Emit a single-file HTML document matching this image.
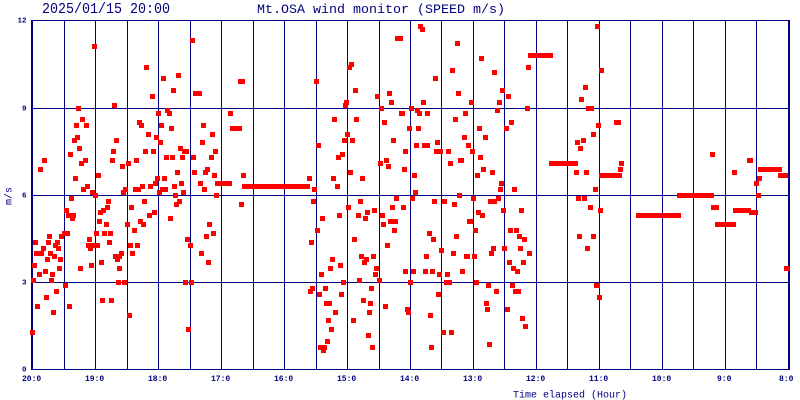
<!DOCTYPE html>
<html><head><meta charset="utf-8"><style>
html,body{margin:0;padding:0;background:#fff;}
svg{display:block;}
text{font-family:"Liberation Mono","DejaVu Sans Mono",monospace;fill:#000080;}
</style></head><body>
<svg width="800" height="400" viewBox="0 0 800 400" xmlns="http://www.w3.org/2000/svg">
<rect x="0" y="0" width="800" height="400" fill="#fff"/>
<g stroke="#000080" stroke-width="1" shape-rendering="crispEdges" fill="none">
<path d="M64.5 20V370M95.5 20V370M127.5 20V370M158.5 20V370M190.5 20V370M221.5 20V370M253.5 20V370M284.5 20V370M316.5 20V370M347.5 20V370M379.5 20V370M410.5 20V370M441.5 20V370M473.5 20V370M504.5 20V370M536.5 20V370M567.5 20V370M599.5 20V370M630.5 20V370M662.5 20V370M693.5 20V370M725.5 20V370M756.5 20V370"/>
<path d="M31 20.5H790M31 108.5H790M31 195.5H790M31 282.5H790M31 369.5H790"/>
</g>
<rect x="31" y="20" width="2" height="350" fill="#000080"/>
<rect x="788" y="20" width="2" height="350" fill="#000080"/>
<path fill="#ff0000" shape-rendering="crispEdges" d="
M92 44h5v5h-5zM190 38h5v5h-5zM144 65h5v5h-5zM161 76h5v5h-5zM176 73h5v5h-5zM171 88h5v5h-5zM150 94h5v5h-5zM193 91h9v5h-9z
M76 106h5v5h-5zM112 103h5v5h-5zM156 111h5v5h-5zM165 108h5v5h-5zM167 111h5v5h-5zM80 117h5v5h-5zM74 123h5v5h-5zM84 123h5v5h-5z
M137 120h5v5h-5zM139 123h5v5h-5zM159 123h5v5h-5zM169 126h5v5h-5zM201 123h5v5h-5zM75 135h5v5h-5zM72 138h5v5h-5zM114 138h5v5h-5z
M146 132h5v5h-5zM154 135h5v5h-5zM158 140h5v5h-5zM210 132h5v5h-5zM200 140h5v5h-5zM77 146h5v5h-5zM111 149h5v5h-5zM143 149h5v5h-5z
M151 149h5v5h-5zM178 146h5v5h-5zM182 149h7v5h-7zM213 149h5v5h-5zM68 152h5v5h-5zM42 158h5v5h-5zM83 158h5v5h-5zM79 161h5v5h-5z
M110 158h5v5h-5zM126 161h5v5h-5zM134 158h5v5h-5zM164 155h5v5h-5zM170 155h5v5h-5zM180 155h5v5h-5zM191 155h5v5h-5zM209 155h5v5h-5z
M38 167h5v5h-5zM120 164h5v5h-5zM205 167h5v5h-5zM175 170h5v5h-5zM192 170h5v5h-5zM203 170h5v5h-5zM212 173h5v5h-5zM96 173h5v5h-5z
M73 176h5v5h-5zM155 176h5v5h-5zM162 176h5v5h-5zM85 184h5v5h-5zM81 187h5v5h-5zM90 190h5v5h-5zM93 193h5v5h-5zM121 190h5v5h-5z
M123 187h5v5h-5zM133 187h8v5h-8zM140 184h5v5h-5zM148 184h5v5h-5zM153 181h5v5h-5zM157 190h5v5h-5zM160 187h8v5h-8zM172 184h5v5h-5z
M179 181h5v5h-5zM181 190h5v5h-5zM173 193h5v5h-5zM198 181h5v5h-5zM202 187h5v5h-5zM215 181h17v5h-17zM214 193h5v5h-5zM69 196h5v5h-5z
M106 199h5v5h-5zM142 199h5v5h-5zM177 199h5v5h-5zM174 202h5v5h-5zM129 205h5v5h-5zM105 205h5v5h-5zM101 208h5v5h-5zM98 210h5v5h-5z
M64 208h5v5h-5zM66 213h10v5h-10zM70 216h5v5h-5zM152 210h5v5h-5zM147 213h5v5h-5zM168 216h5v5h-5zM97 219h5v5h-5zM104 222h5v5h-5z
M125 222h5v5h-5zM138 219h5v5h-5zM141 222h5v5h-5zM207 222h5v5h-5zM132 228h5v5h-5zM211 231h5v5h-5zM204 234h5v5h-5zM62 231h8v5h-8z
M94 231h5v5h-5zM102 231h5v5h-5zM108 231h5v5h-5zM59 234h5v5h-5zM47 234h5v5h-5zM87 237h5v5h-5zM185 237h5v5h-5zM33 240h5v5h-5z
M46 240h5v5h-5zM55 240h5v5h-5zM107 240h5v5h-5zM53 243h5v5h-5zM86 243h14v5h-14zM128 243h5v5h-5zM135 243h5v5h-5zM188 243h5v5h-5z
M41 246h5v5h-5zM56 246h5v5h-5zM88 246h5v5h-5zM34 251h10v5h-10zM48 251h5v5h-5zM119 251h5v5h-5zM130 251h5v5h-5zM199 251h5v5h-5z
M52 254h5v5h-5zM113 254h9v5h-9zM45 257h5v5h-5zM58 257h5v5h-5zM115 257h5v5h-5zM99 260h5v5h-5zM206 260h5v5h-5zM32 263h5v5h-5z
M89 263h5v5h-5zM57 266h5v5h-5zM78 266h5v5h-5zM117 266h5v5h-5zM43 269h5v5h-5zM37 272h5v5h-5zM50 272h5v5h-5zM31 278h5v5h-5z
M49 278h5v5h-5zM116 280h5v5h-5zM122 280h5v5h-5zM183 280h5v5h-5zM189 280h5v5h-5zM63 283h5v5h-5zM54 289h5v5h-5zM44 295h5v5h-5z
M100 298h5v5h-5zM109 298h5v5h-5zM35 304h5v5h-5zM67 304h5v5h-5zM51 310h5v5h-5zM127 313h5v5h-5zM186 327h5v5h-5zM30 330h5v5h-5z
M395 36h8v5h-8zM349 62h5v5h-5zM347 65h5v5h-5zM238 79h7v5h-7zM314 79h5v5h-5zM353 88h5v5h-5zM375 94h5v5h-5zM387 91h5v5h-5z
M344 100h5v5h-5zM343 103h5v5h-5zM389 100h5v5h-5zM379 106h5v5h-5zM228 111h5v5h-5zM399 111h6v5h-6zM332 117h5v5h-5zM354 117h5v5h-5z
M382 120h5v5h-5zM230 126h12v5h-12zM345 132h5v5h-5zM342 138h5v5h-5zM350 138h5v5h-5zM391 138h5v5h-5zM316 143h5v5h-5zM340 152h5v5h-5z
M336 155h5v5h-5zM403 149h5v5h-5zM384 158h5v5h-5zM378 161h5v5h-5zM386 164h5v5h-5zM402 167h5v5h-5zM348 170h5v5h-5zM241 173h5v5h-5z
M307 176h5v5h-5zM331 176h5v5h-5zM360 176h5v5h-5zM335 184h5v5h-5zM242 184h68v5h-68zM312 187h5v5h-5zM394 196h5v5h-5zM239 202h5v5h-5z
M311 199h5v5h-5zM358 199h5v5h-5zM346 205h5v5h-5zM390 205h5v5h-5zM401 205h5v5h-5zM365 210h5v5h-5zM372 208h5v5h-5zM337 213h5v5h-5z
M356 213h5v5h-5zM363 216h5v5h-5zM380 213h5v5h-5zM320 216h5v5h-5zM388 219h10v5h-10zM381 222h5v5h-5zM392 228h5v5h-5zM315 228h5v5h-5z
M352 237h5v5h-5zM309 240h5v5h-5zM385 243h5v5h-5zM359 254h5v5h-5zM364 257h5v5h-5zM371 254h5v5h-5zM362 260h5v5h-5zM330 257h5v5h-5z
M338 263h5v5h-5zM328 266h5v5h-5zM374 266h5v5h-5zM373 272h5v5h-5zM319 272h5v5h-5zM403 269h5v5h-5zM341 280h5v5h-5zM357 278h5v5h-5z
M377 278h5v5h-5zM310 286h5v5h-5zM308 289h5v5h-5zM323 286h5v5h-5zM369 286h5v5h-5zM317 292h5v5h-5zM339 292h5v5h-5zM361 298h5v5h-5z
M368 301h5v5h-5zM324 301h8v5h-8zM383 304h5v5h-5zM333 310h5v5h-5zM367 310h5v5h-5zM326 318h5v5h-5zM351 318h5v5h-5zM329 327h5v5h-5z
M366 333h5v5h-5zM325 339h5v5h-5zM318 345h9v5h-9zM321 348h5v5h-5zM370 345h5v5h-5z
M418 24h5v5h-5zM420 27h5v5h-5zM455 41h5v5h-5zM528 53h25v5h-25zM479 56h5v5h-5zM450 68h5v5h-5zM492 70h5v5h-5zM526 65h5v5h-5z
M433 76h5v5h-5zM500 88h5v5h-5zM506 94h5v5h-5zM456 91h5v5h-5zM583 85h5v5h-5zM579 97h5v5h-5zM421 100h5v5h-5zM469 100h5v5h-5z
M497 100h5v5h-5zM409 106h5v5h-5zM415 108h5v5h-5zM417 111h5v5h-5zM425 111h5v5h-5zM463 111h5v5h-5zM495 108h5v5h-5zM525 106h5v5h-5z
M586 106h8v5h-8zM453 117h5v5h-5zM509 120h5v5h-5zM407 126h5v5h-5zM416 126h5v5h-5zM477 126h5v5h-5zM504 126h5v5h-5zM591 132h5v5h-5z
M462 135h5v5h-5zM483 135h5v5h-5zM414 143h5v5h-5zM422 143h8v5h-8zM435 140h5v5h-5zM466 143h5v5h-5zM575 140h5v5h-5zM581 138h5v5h-5z
M578 146h5v5h-5zM434 149h9v5h-9zM446 149h5v5h-5zM470 149h5v5h-5zM478 155h5v5h-5zM458 158h6v5h-6zM448 161h5v5h-5zM549 161h29v5h-29z
M481 167h5v5h-5zM490 170h5v5h-5zM412 173h5v5h-5zM475 173h5v5h-5zM574 170h5v5h-5zM584 170h5v5h-5zM499 181h5v5h-5zM498 187h5v5h-5z
M512 187h5v5h-5zM593 187h5v5h-5zM413 190h5v5h-5zM410 196h5v5h-5zM457 193h5v5h-5zM432 199h5v5h-5zM442 199h5v5h-5zM452 202h5v5h-5z
M471 196h5v5h-5zM488 199h9v5h-9zM496 196h5v5h-5zM576 196h5v5h-5zM582 196h5v5h-5zM588 205h5v5h-5zM476 210h5v5h-5zM480 213h5v5h-5z
M501 208h5v5h-5zM519 208h5v5h-5zM467 219h6v5h-6zM473 228h5v5h-5zM508 228h5v5h-5zM514 228h5v5h-5zM427 231h5v5h-5zM431 237h5v5h-5z
M454 234h5v5h-5zM517 234h5v5h-5zM522 237h5v5h-5zM577 234h5v5h-5zM591 234h5v5h-5zM439 248h5v5h-5zM451 251h5v5h-5zM491 246h5v5h-5z
M489 251h5v5h-5zM502 246h5v5h-5zM518 246h5v5h-5zM527 251h5v5h-5zM585 246h5v5h-5zM424 254h5v5h-5zM464 254h6v5h-6zM472 254h5v5h-5z
M507 260h5v5h-5zM521 260h5v5h-5zM511 266h5v5h-5zM515 269h5v5h-5zM411 269h5v5h-5zM423 269h5v5h-5zM430 269h5v5h-5zM437 272h5v5h-5z
M445 272h5v5h-5zM460 269h5v5h-5zM408 280h5v5h-5zM444 280h8v5h-8zM474 280h5v5h-5zM486 283h5v5h-5zM510 283h5v5h-5zM594 283h6v5h-6z
M494 289h5v5h-5zM513 289h8v5h-8zM436 292h5v5h-5zM484 301h5v5h-5zM485 307h5v5h-5zM505 307h5v5h-5zM405 307h5v5h-5zM406 310h5v5h-5z
M428 313h5v5h-5zM520 316h5v5h-5zM523 324h5v5h-5zM441 330h5v5h-5zM449 330h5v5h-5zM487 342h5v5h-5zM429 345h5v5h-5z
M595 24h5v5h-5zM599 68h5v5h-5zM614 120h7v5h-7zM596 123h5v5h-5zM619 161h5v5h-5zM618 167h5v5h-5zM599 173h23v5h-23zM598 208h5v5h-5z
M597 295h5v5h-5zM636 213h45v5h-45zM677 193h37v5h-37zM710 152h5v5h-5zM711 205h8v5h-8zM733 208h18v5h-18zM749 210h9v5h-9zM715 222h21v5h-21z
M732 170h5v5h-5zM747 158h6v5h-6zM758 167h24v5h-24zM757 176h5v5h-5zM754 181h5v5h-5zM756 193h5v5h-5zM778 173h10v5h-10zM784 266h6v5h-6z
"/>
<text x="42" y="13" font-size="15" textLength="128" lengthAdjust="spacingAndGlyphs">2025/01/15 20:00</text>
<text x="257" y="13" font-size="13.3" textLength="248" lengthAdjust="spacingAndGlyphs">Mt.OSA wind monitor (SPEED m/s)</text>
<g font-size="7.5" font-weight="bold" text-anchor="end">
<text x="26.5" y="22.5">12</text>
<text x="26.5" y="110.7">9</text>
<text x="26.5" y="197.5">6</text>
<text x="26.5" y="284.5">3</text>
<text x="26.5" y="371.7">0</text>
</g>
<g font-size="8" font-weight="bold">
<text x="22" y="381">20:0</text>
<text x="85" y="381">19:0</text>
<text x="148" y="381">18:0</text>
<text x="211" y="381">17:0</text>
<text x="274" y="381">16:0</text>
<text x="337" y="381">15:0</text>
<text x="400" y="381">14:0</text>
<text x="463" y="381">13:0</text>
<text x="526" y="381">12:0</text>
<text x="589" y="381">11:0</text>
<text x="652" y="381">10:0</text>
<text x="717" y="381">9:0</text>
<text x="779" y="381">8:0</text>
</g>
<text x="513" y="397.3" font-size="10" textLength="114" lengthAdjust="spacingAndGlyphs">Time elapsed (Hour)</text>
<text transform="translate(11.5,196) rotate(-90)" font-size="10" text-anchor="middle">m/s</text>
</svg>
</body></html>
